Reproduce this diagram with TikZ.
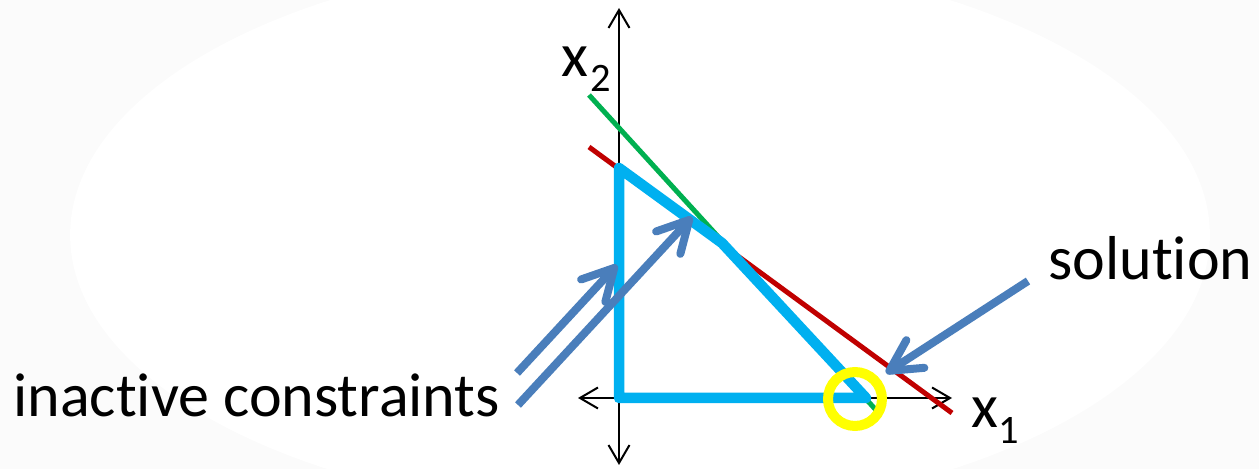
\documentclass[tikz,border=0pt]{standalone}
\usepackage{fontspec}
\setmainfont{Carlito}[Ligatures=NoCommon]
\usetikzlibrary{arrows.meta}
\definecolor{polyblue}{HTML}{00B0F0}
\definecolor{callout}{HTML}{4A7EBB}
\definecolor{cred}{HTML}{C00000}
\definecolor{cgreen}{HTML}{00B050}
\definecolor{cyellow}{HTML}{FFFF00}
\definecolor{bgrey}{HTML}{FBFBFB}
\begin{document}
\begin{tikzpicture}[x=0.02cm,y=-0.02cm,
  axis/.style={line width=0.04cm,black,{Straight Barb[length=0.36cm,width=0.42cm]}-{Straight Barb[length=0.36cm,width=0.42cm]}},
  cline/.style={line width=0.1cm},
  feasible/.style={line width=0.21cm,polyblue,line join=round,line cap=round},
  pointer/.style={line width=0.16cm,callout,-{Straight Barb[round,length=0.62cm,width=0.66cm]}},
  lbl/.style={inner sep=0pt,font=\fontsize{35.3pt}{40pt}\selectfont},
  sublbl/.style={inner sep=0pt,font=\fontsize{23pt}{26pt}\selectfont}]
\useasboundingbox (0,0) rectangle (1259,469);
\begin{scope}
\clip (0,0) rectangle (1259,469);
\fill[bgrey] (0,0) rectangle (1259,469);
\fill[white] (640,235) ellipse [x radius=11.4cm, y radius=5.6cm];
\end{scope}
% axes
\coordinate (ytop) at (619,8);
\coordinate (ybot) at (619,465);
\coordinate (xl) at (578,398);
\coordinate (xr) at (952,398);
\draw[axis] (ybot) -- (ytop);
\draw[axis] (xl) -- (xr);
% constraint lines
\coordinate (g1) at (589,95);
\coordinate (g2) at (876,410);
\coordinate (r1) at (589,147);
\coordinate (r2) at (952,413);
\draw[cline,cgreen] (g1) -- (g2);
\draw[cline,cred] (r1) -- (r2);
% feasible region
\coordinate (p1) at (619,168);
\coordinate (p2) at (619,398);
\coordinate (p3) at (866,398);
\coordinate (p4) at (722,243);
\draw[feasible] (p1) -- (p2) -- (p3) -- (p4) -- cycle;
% solution marker
\coordinate (solc) at (855,399);
\draw[line width=0.2cm,cyellow] (solc) circle [radius=0.54cm];
% labels
\node[lbl,anchor=base west] (inact) at (13,417) {inactive constraints};
\node[lbl,anchor=base west] (sol) at (1048,280) {solution};
\node[lbl,anchor=base west] (x2) at (561,77) {x};
\node[sublbl,anchor=base west] (x2s) at (590,92) {2};
\node[lbl,anchor=base west] (x1) at (971,428) {x};
\node[sublbl,anchor=base west] (x1s) at (998,444) {1};
% pointers
\coordinate (a1s) at (517,373);
\coordinate (a1e) at (617,265);
\coordinate (a2s) at (518,405);
\coordinate (a2e) at (692,217);
\coordinate (a3s) at (1028,281);
\coordinate (a3e) at (886,373);
\draw[pointer] (a1s) -- (a1e);
\draw[pointer] (a2s) -- (a2e);
\draw[pointer] (a3s) -- (a3e);
\end{tikzpicture}
\end{document}
